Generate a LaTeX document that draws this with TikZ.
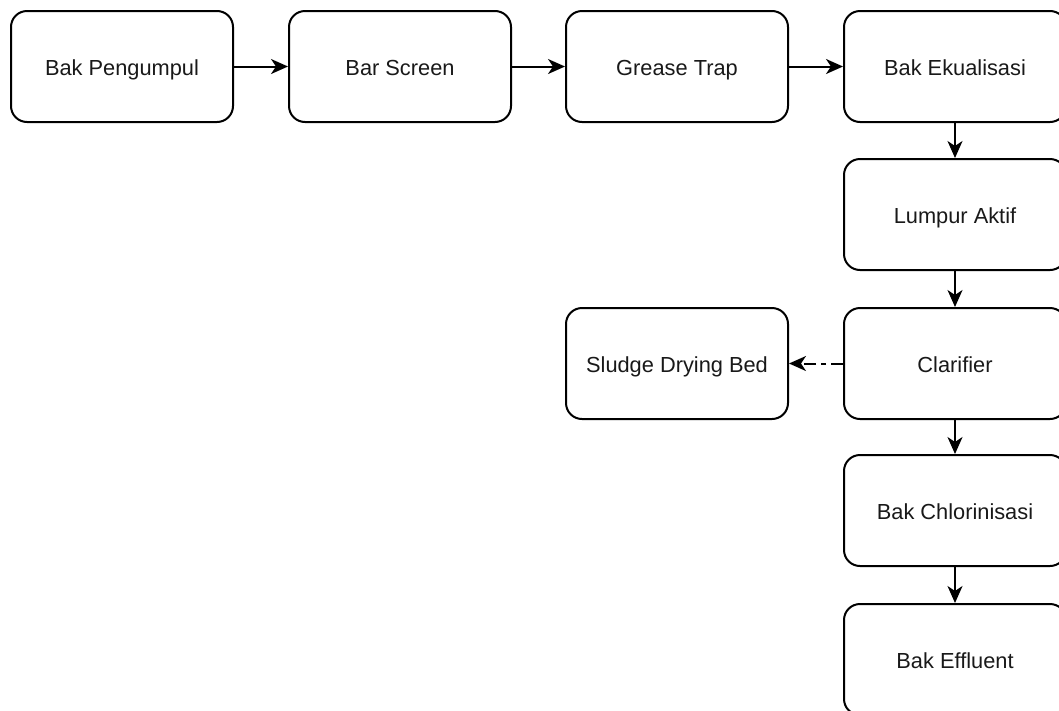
\documentclass[tikz,border=0pt]{standalone}
\usepackage{fontspec}
\setmainfont{Liberation Sans}
\usetikzlibrary{arrows.meta}
\begin{document}
\begin{tikzpicture}[x=1pt,y=-1pt,
  stage/.style={draw=black, line width=2pt, rounded corners=16pt,
    minimum width=222pt, minimum height=111pt, inner sep=0pt,
    text height=17pt, text depth=0pt,
    font=\fontsize{21.8pt}{26pt}\selectfont, text=black!90, anchor=north west},
  flow/.style={line width=2pt, -{Stealth[length=17pt, width=15pt, inset=5pt]}},
  sludge/.style={flow, dash pattern=on 12pt off 5pt on 5pt off 5pt}]
\useasboundingbox (0,0) rectangle (1059,710);
\clip (0,0) rectangle (1059,710);
% top row
\node[stage] (pengumpul) at (10,10) {Bak Pengumpul};
\node[stage] (screen) at (288,10) {Bar Screen};
\node[stage] (grease) at (565,10) {Grease Trap};
\node[stage] (ekualisasi) at (843,10) {Bak Ekualisasi};
% right column
\node[stage] (lumpur) at (843,158) {Lumpur Aktif};
\node[stage] (clarifier) at (843,307) {Clarifier};
\node[stage] (chlor) at (843,454) {Bak Chlorinisasi};
\node[stage] (effluent) at (843,603) {Bak Effluent};
% sludge branch
\node[stage] (drying) at (565,307) {Sludge Drying Bed};
% connectors
\draw[flow] (pengumpul) -- (screen);
\draw[flow] (screen) -- (grease);
\draw[flow] (grease) -- (ekualisasi);
\draw[flow] (ekualisasi) -- (lumpur);
\draw[flow] (lumpur) -- (clarifier);
\draw[flow] (clarifier) -- (chlor);
\draw[flow] (chlor) -- (effluent);
\draw[sludge] (clarifier) -- (drying);
\end{tikzpicture}
\end{document}
